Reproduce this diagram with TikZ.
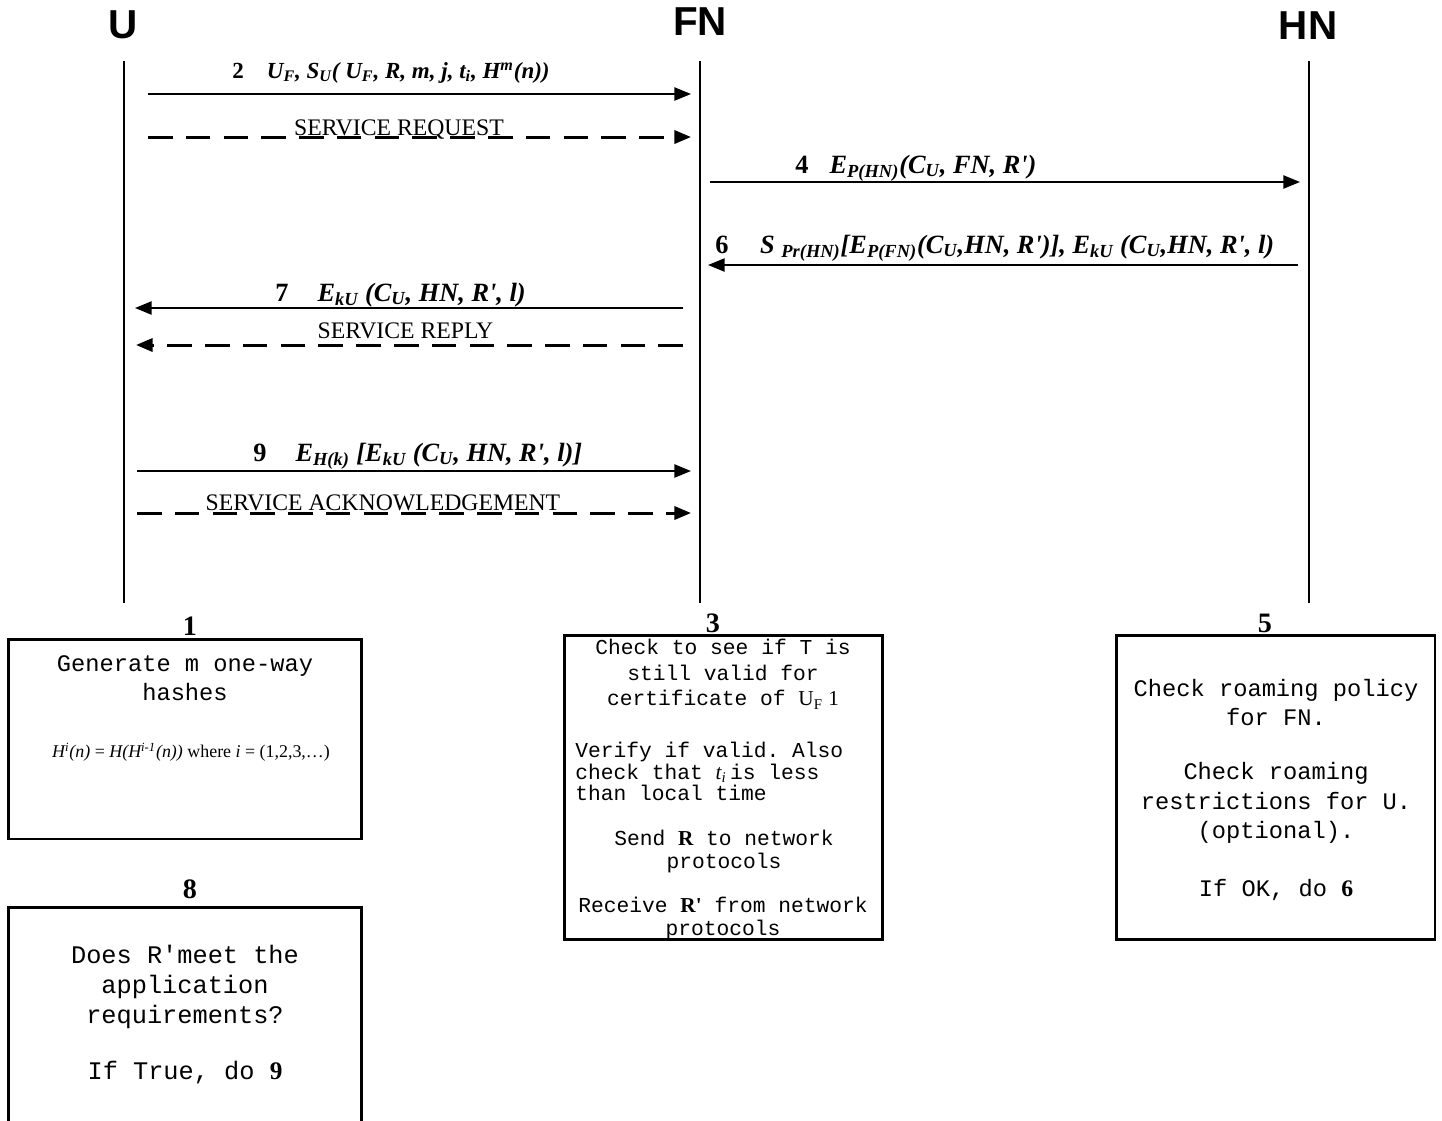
\documentclass[tikz,border=0pt]{standalone}
\usepackage{fontspec}
\setmainfont{Liberation Serif}
\setmonofont{Liberation Mono}
\newfontfamily\hdfont{Liberation Sans}
\usetikzlibrary{arrows.meta}
\newcommand\lsub[1]{\textsubscript{#1}}
\newcommand\lsup[1]{\textsuperscript{#1}}
\newcommand\pr{\textquotesingle}
\begin{document}
\begin{tikzpicture}[x=0.02cm,y=-0.02cm,
  hdr/.style={font=\hdfont\bfseries\fontsize{23}{27}\selectfont, inner sep=0},
  life/.style={line width=1.1pt},
  msg/.style={line width=1.1pt, -{Triangle[length=9.5pt,width=7.5pt]}},
  dmsg/.style={line width=1.7pt, dash pattern=on 14pt off 7.5pt, -{Triangle[length=9.5pt,width=7.5pt]}},
  lbl/.style={font=\fontsize{15}{17}\selectfont\bfseries\itshape, inner sep=0, anchor=base west},
  svc/.style={font=\fontsize{13.5}{16}\selectfont, inner sep=0, anchor=base},
  stepbox/.style={draw, line width=1.7pt, inner sep=0},
  stepnum/.style={font=\fontsize{16}{18}\selectfont\bfseries, inner sep=0, anchor=base},
  txtA/.style={font=\ttfamily\fontsize{13.5}{16.4}\selectfont, align=center, inner sep=0},
  txtB/.style={font=\ttfamily\fontsize{12.1}{14.7}\selectfont, align=center, inner sep=0},
  txtC/.style={font=\ttfamily\fontsize{12.1}{12.2}\selectfont, align=left, inner sep=0, anchor=west},
  txtD/.style={font=\ttfamily\fontsize{12.1}{13}\selectfont, align=center, inner sep=0},
  txtE/.style={font=\ttfamily\fontsize{13.5}{16.7}\selectfont, align=center, inner sep=0},
  txtF/.style={font=\ttfamily\fontsize{14.4}{17}\selectfont, align=center, inner sep=0}
]
\useasboundingbox (0,0) rectangle (1442,1120);
\clip (0,0) rectangle (1442,1120);

% headers
\node[hdr] (U) at (123,25) {U};
\node[hdr] (FN) at (700,22) {FN};
\node[hdr] (HN) at (1308,26) {HN};

% lifelines
\coordinate (Ut) at (124,61);  \coordinate (Ub) at (124,603);
\coordinate (Ft) at (700,61);  \coordinate (Fb) at (700,603);
\coordinate (Ht) at (1309,61); \coordinate (Hb) at (1309,603);
\draw[life] (Ut) -- (Ub);
\draw[life] (Ft) -- (Fb);
\draw[life] (Ht) -- (Hb);

% message end points
\coordinate (m2a) at (148,94);  \coordinate (m2b) at (691,94);
\coordinate (r2a) at (148,137); \coordinate (r2b) at (691,137);
\coordinate (m4a) at (710,182); \coordinate (m4b) at (1300,182);
\coordinate (m6a) at (1298,265); \coordinate (m6b) at (708,265);
\coordinate (m7a) at (683,308); \coordinate (m7b) at (135,308);
\coordinate (r7a) at (683,345); \coordinate (r7b) at (136,345);
\coordinate (m9a) at (137,471); \coordinate (m9b) at (691,471);
\coordinate (r9a) at (137,513); \coordinate (r9b) at (691,513);

\draw[msg] (m2a) -- (m2b);
\draw[dmsg] (r2a) -- (r2b);
\draw[msg] (m4a) -- (m4b);
\draw[msg] (m6a) -- (m6b);
\draw[msg] (m7a) -- (m7b);
\draw[dmsg] (r7a) -- (r7b);
\draw[msg] (m9a) -- (m9b);
\draw[dmsg] (r9a) -- (r9b);

% message labels
\node[lbl, font=\fontsize{13.1}{15}\selectfont\bfseries\itshape] (l2) at (232,78) {{\upshape 2}\hspace{1em}U\lsub{F}, S\lsub{U}( U\lsub{F}, R, m, j, t\lsub{i}, H\lsup{m}(n))};
\node[svc] (s2) at (399,135.5) {SERVICE REQUEST};
\node[lbl] (l4) at (795,173) {{\upshape 4}\hspace{0.8em}E\lsub{P(HN)}(C\lsub{U}, FN, R\pr)};
\node[lbl] (l6) at (715,253) {{\upshape 6}\hspace{1.2em}S \lsub{Pr(HN)}[E\lsub{P(FN)}(C\lsub{U},HN, R\pr)], E\lsub{kU} (C\lsub{U},HN, R\pr, l)};
\node[lbl] (l7) at (275,301) {{\upshape 7}\hspace{1.1em}E\lsub{kU} (C\lsub{U}, HN, R\pr, l)};
\node[svc] (s7) at (405.5,338.5) {SERVICE REPLY};
\node[lbl] (l9) at (253,461) {{\upshape 9}\hspace{1.1em}E\lsub{H(k)} [E\lsub{kU} (C\lsub{U}, HN, R\pr, l)]};
\node[svc] (s9) at (383,510.5) {SERVICE ACKNOWLEDGEMENT};

% box 1
\node[stepnum] (n1) at (190,635) {1};
\node[stepbox, minimum width=7.08cm, minimum height=4cm] (b1) at (185,739) {};
\node[txtA] (t1a) at (185,678.5) {Generate m one-way\\hashes};
\node[inner sep=0, font=\fontsize{10.2}{12}\selectfont] (t1b) at (191,752)
  {\textit{H\lsup{i}(n)} = \textit{H(H\lsup{i-1}(n))} where \textit{i} = (1,2,3,\ldots)};

% box 3
\node[stepnum] (n3) at (713,632) {3};
\node[stepbox, minimum width=6.38cm, minimum height=6.1cm] (b3) at (723.5,787.5) {};
\node[txtB] (t3a) at (723,674) {Check to see if T is\\still valid for\\certificate of {\rmfamily U\lsub{F} 1}};
\node[txtC] (t3b) at (575,771.5) {Verify if valid. Also\\check that {\rmfamily\itshape t\lsub{i}}\,is less\\than local time};
\node[txtD] (t3c) at (724,851.5) {Send {\rmfamily\bfseries R} to network\\protocols};
\node[txtD] (t3d) at (723,918.5) {Receive {\rmfamily\bfseries R\pr} from network\\protocols};

% box 5
\node[stepnum] (n5) at (1265,632) {5};
\node[stepbox, minimum width=6.38cm, minimum height=6.1cm] (b5) at (1275.5,787.5) {};
\node[txtE] (t5a) at (1276,702.5) {Check roaming policy\\for FN.};
\node[txtE] (t5b) at (1276,803) {Check roaming\\restrictions for U.\\(optional).};
\node[txtE] (t5c) at (1276,890) {If OK, do {\rmfamily\bfseries 6}};

% box 8
\node[stepnum] (n8) at (190,898) {8};
\node[stepbox, minimum width=7.08cm, minimum height=4.6cm] (b8) at (185,1022) {};
\node[txtF] (t8a) at (185,987) {Does R'meet the\\application\\requirements?};
\node[txtF] (t8b) at (185,1073) {If True, do {\rmfamily\bfseries 9}};
\end{tikzpicture}
\end{document}
